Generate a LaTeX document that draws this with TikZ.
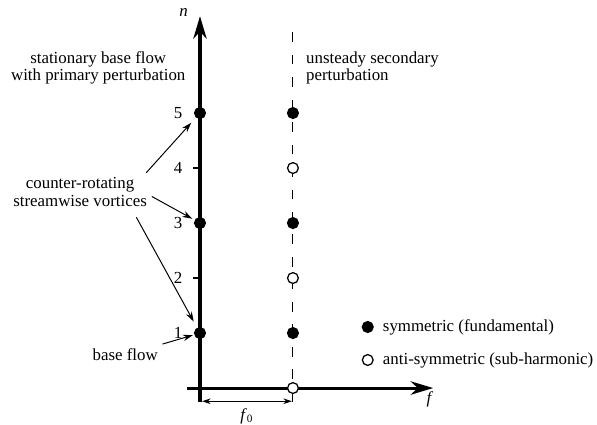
\documentclass[tikz,border=0pt]{standalone}
\usepackage{fontspec}
\setmainfont{Liberation Serif}
\usetikzlibrary{arrows.meta,positioning}

\begin{document}
\begin{tikzpicture}[x=1.375cm,y=1.375cm,every node/.style={font=\fontsize{12}{12.5}\selectfont},
  dot/.style={circle,draw,line width=0.9pt,fill=black,minimum size=2.7mm,inner sep=0pt},
  odot/.style={dot,fill=white},
  axis/.style={line width=2.2pt,-{Stealth[length=16pt,width=9.5pt,inset=5pt]}},
  ptr/.style={line width=0.7pt,-{Stealth[length=7pt,width=4.5pt]}},
  lbl/.style={align=center}]
\useasboundingbox (-3.636,-0.655) rectangle (7.218,7.055);
\coordinate (ybot) at (0,-0.25);
\coordinate (ytop) at (0,6.76);
\coordinate (xl) at (-0.24,0);
\coordinate (xr) at (4.24,0);
\coordinate (dbot) at (1.69,-0.25);
\coordinate (dtop) at (1.69,6.56);
\coordinate (fa) at (0.04,-0.24);
\coordinate (fb) at (1.67,-0.24);
% secondary line and axes
\draw[line width=0.7pt,dash pattern=on 7pt off 9pt] (dbot) -- (dtop);
\draw[axis] (ybot) -- (ytop);
\draw[axis] (xl) -- (xr);
\foreach \k in {1,...,5}
  \node (t\k) at (-0.4,\k) {\k};
\foreach \k in {2,4}
  \draw[line width=0.9pt] (0,\k) -- ++(-0.13,0);
\node (p1) [dot] at (0,1) {};
\node (p3) [dot] at (0,3) {};
\node (p5) [dot] at (0,5) {};
\node (s0) [odot] at (1.69,0) {};
\node (s1) [dot] at (1.69,1) {};
\node (s2) [odot] at (1.69,2) {};
\node (s3) [dot] at (1.69,3) {};
\node (s4) [odot] at (1.69,4) {};
\node (s5) [dot] at (1.69,5) {};
\node (n) at (-0.3,6.82) {\textit{n}};
\node (f) at (4.18,-0.2) {\textit{f}};
\node (f0) at (0.85,-0.51) {\textit{f}\textsubscript{0}};
\draw[line width=0.7pt,{Stealth[length=6pt,width=4pt]}-{Stealth[length=6pt,width=4pt]}] (fa) -- (fb);
% labels
\node (stat) [lbl] at (-1.85,5.82) {stationary base flow\\with primary perturbation};
\node (unst) [align=left,anchor=west] at (1.84,5.82) {unsteady secondary\\perturbation};
\node (vort) [lbl] at (-2.18,3.56) {counter-rotating\\streamwise vortices};
\node (base) at (-1.36,0.6) {base flow};
\coordinate (v1) at ([xshift=-4pt]vort.north east);
\coordinate (v2) at ([yshift=-3pt]vort.east);
\coordinate (v3) at ([xshift=-11pt,yshift=-4pt]vort.south east);
\foreach \from/\to/\gap in {v1/p5/5pt, v2/p3/2pt, v3/p1/5pt, base/p1/1pt}
  \draw[ptr,shorten >=\gap] (\from) -- (\to);
% legend
\node (lg1) [dot] at (3.05,1.11) {};
\node (lg2) [odot] at (3.05,0.51) {};
\node (lg1t) [right=3pt of lg1] {symmetric (fundamental)};
\node (lg2t) [right=3pt of lg2] {anti-symmetric (sub-harmonic)};
\end{tikzpicture}
\end{document}
